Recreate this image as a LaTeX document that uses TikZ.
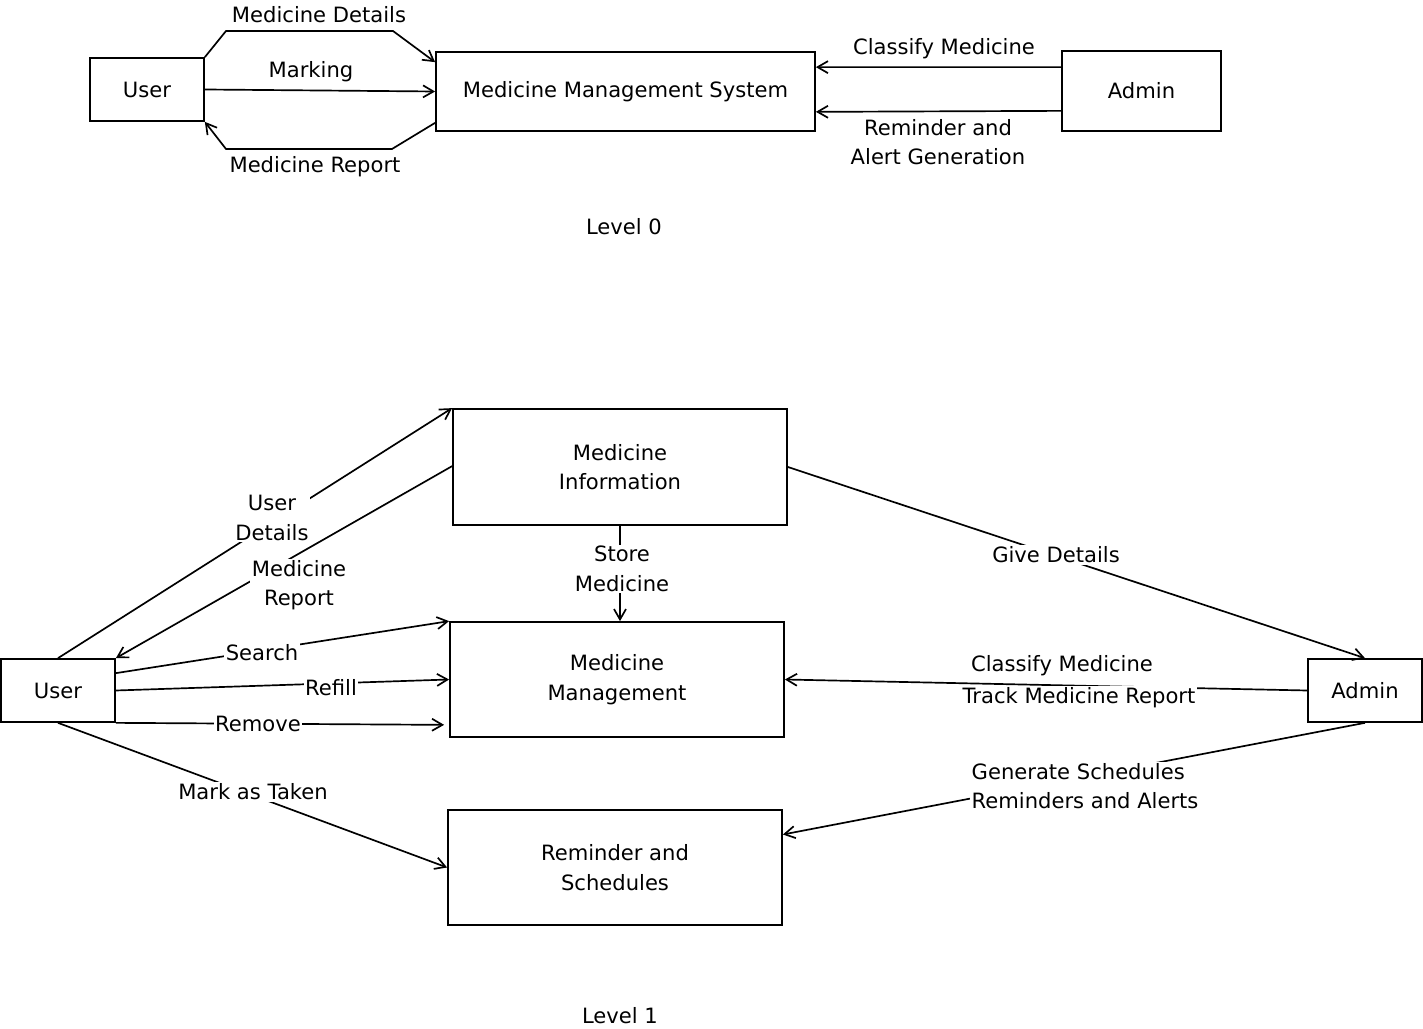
\documentclass[tikz,border=0pt]{standalone}
\usepackage{fontspec}
\setmainfont{DejaVu Sans}
\usetikzlibrary{calc,arrows.meta}

\tikzset{
	box/.style={draw, rectangle, line width=1.2pt, inner sep=0pt, align=center},
	flow/.style={line width=1.2pt, -{Straight Barb[length=2.6mm,width=3mm]}},
	lbl/.style={fill=white, inner sep=1pt, align=center}
}

\begin{document}
\begin{tikzpicture}[x=0.025cm, y=-0.025cm, font=\fontsize{15}{21}\selectfont]
			%%%%% START %%%%%
			\useasboundingbox (0,0) rectangle (1423,1029);
			
			%% Level 0
			\node[box, minimum width=2.85cm, minimum height=1.575cm] (user0) at (147, 89.5) {User};
			\node[box, minimum width=9.475cm, minimum height=1.975cm] (mms) at (625.5, 91.5) {Medicine Management System};
			\node[box, minimum width=3.975cm, minimum height=2cm] (admin0) at (1141.5, 91) {Admin};
			
			\draw[flow] (user0.north east) -- (226, 31) -- (393, 31) -- ($(mms.north west)+(0, 11)$);
			\draw[flow] (user0.east) -- (mms.west);
			\draw[flow] ($(mms.south west)+(0, -9)$) -- (392, 149) -- (226, 149) -- (user0.south east);
			\draw[flow] ($(admin0.north west)+(0, 17)$) -- ($(mms.north east)+(0, 16)$);
			\draw[flow] ($(admin0.south west)+(0, -21)$) -- ($(mms.south east)+(0, -20)$);
			
			\node[lbl] (lblDetails) at (319, 15) {Medicine Details};
			\node[lbl] (lblMarking) at (311, 72) {Marking};
			\node[lbl] (lblReport) at (315, 167) {Medicine Report};
			\node[lbl] (lblClassify) at (944, 49) {Classify Medicine};
			\node[lbl] (lblReminder) at (938, 142) {Reminder and\\Alert Generation};
			\node (level0) at (624, 227) {Level 0};
			
			%% Level 1
			\node[box, minimum width=2.85cm, minimum height=1.575cm] (user1) at (58, 690.5) {User};
			\node[box, minimum width=2.85cm, minimum height=1.575cm] (admin1) at (1365, 690.5) {Admin};
			\node[box, minimum width=8.35cm, minimum height=2.9cm] (info) at (620, 467) {Medicine\\Information};
			\node[box, minimum width=8.35cm, minimum height=2.875cm] (manage) at (617, 679.5) {Medicine\\Management};
			\node[box, minimum width=8.35cm, minimum height=2.875cm] (remind) at (615, 867.5) {Reminder and\\Schedules};
			
			\draw[flow] (user1.north) -- (info.north west);
			\draw[flow] ($(info.north west)+(0, 58)$) -- (user1.north east);
			\draw[flow] ($(user1.north east)+(0, 15)$) -- (manage.north west);
			\draw[flow] (user1.east) -- (manage.west);
			\draw[flow] (user1.south east) -- ($(manage.south west)+(-5, -13)$);
			\draw[flow] (user1.south) -- (remind.west);
			\draw[flow] (info.south) -- (info.south |- manage.north);
			\draw[flow] (info.east) -- (admin1.north);
			\draw[flow] (admin1.west) -- (manage.east);
			\draw[flow] (admin1.south) -- ($(remind.east)+(0, -33)$);
			
			\node[lbl] (lblUser) at (272, 518) {User\\Details};
			\node[lbl] (lblMedRep) at (299, 585) {Medicine\\Report};
			\node[lbl] (lblSearch) at (262, 653) {Search};
			\node[lbl] (lblRefill) at (331, 688) {Refill};
			\node[lbl] (lblRemove) at (258, 724) {Remove};
			\node[lbl] (lblTaken) at (253, 792) {Mark as Taken};
			\node[lbl] (lblStore) at (622, 569) {Store\\Medicine};
			\node[lbl] (lblGive) at (1056, 555) {Give Details};
			\node[lbl] (lblClass) at (1062, 666) {Classify Medicine};
			\node[lbl] (lblTrack) at (1079, 698) {Track Medicine Report};
			\node[lbl, anchor=west, align=left] (lblGen) at (970, 786) {Generate Schedules\\Reminders and Alerts};
			\node (level1) at (620, 1016) {Level 1};
			%%%%% END %%%%%
\end{tikzpicture}
\end{document}
